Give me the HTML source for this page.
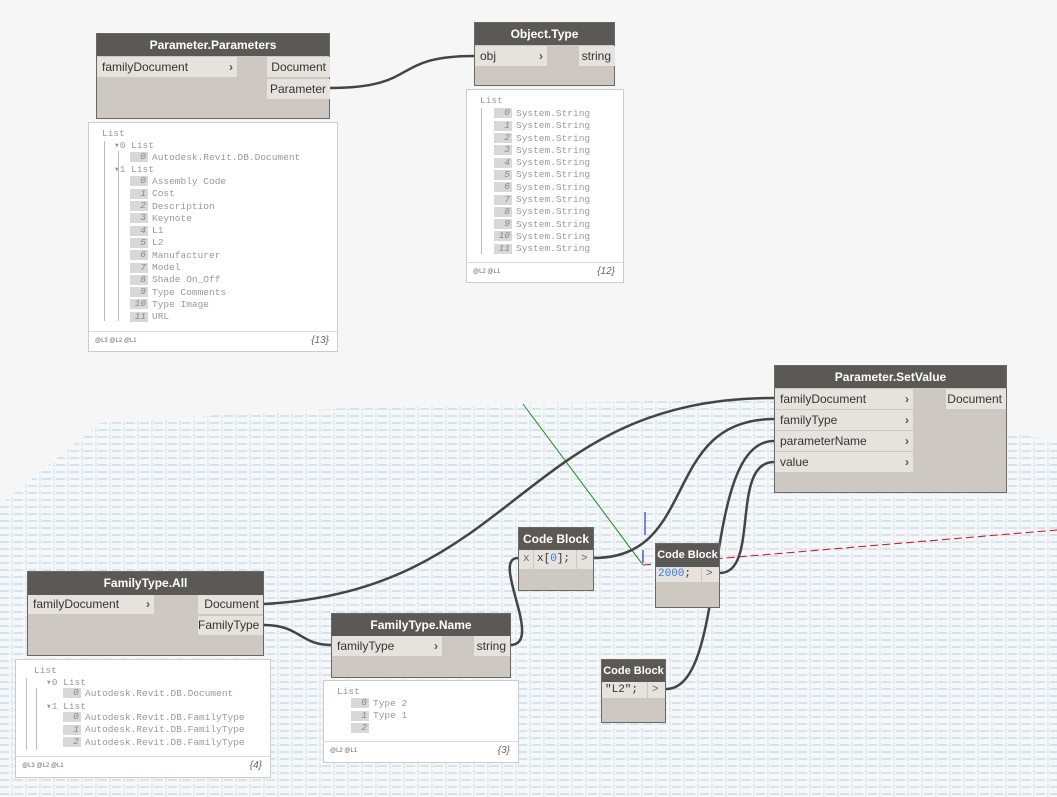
<!DOCTYPE html>
<html><head><meta charset="utf-8">
<style>
body{margin:0;width:1057px;height:797px;overflow:hidden;background:#f6f6f6;position:relative;font-family:"Liberation Sans",sans-serif;}
.a{position:absolute;}
.node{position:absolute;background:#cdc9c2;border:1px solid #6b6864;box-sizing:border-box;}
.hd{position:absolute;left:0;right:0;top:0;background:#5b5955;color:#fff;font-weight:bold;font-size:12px;text-align:center;white-space:nowrap;overflow:hidden;}
.in{position:absolute;background:#e6e3de;color:#333;font-size:12px;padding-left:5px;box-sizing:border-box;white-space:nowrap;}
.in b{position:absolute;right:4px;top:0;font-weight:bold;color:#555;}
.out{position:absolute;background:#e6e3de;color:#333;font-size:12px;text-align:right;padding-right:4px;box-sizing:border-box;white-space:nowrap;}
.pv{position:absolute;background:#fff;border:1px solid #ccc;box-sizing:border-box;}
.t{position:absolute;font-family:"Liberation Mono",monospace;font-size:9.5px;color:#999;white-space:nowrap;}
.t div{height:12.3px;line-height:12.3px;}
.ix{display:inline-block;background:#d8d8d8;color:#888;font-style:italic;width:16px;height:10px;line-height:10px;text-align:right;padding-right:2px;margin-right:4px;vertical-align:middle;}
.ft{position:absolute;font-size:6px;color:#666;}
.br{position:absolute;font-size:10px;color:#666;font-style:italic;}
.vl{position:absolute;width:1px;background:#bbb;}
.mono{font-family:"Liberation Mono",monospace;}
</style></head><body>
<svg class="a" style="left:0;top:0" width="1057" height="797">
<defs>
<pattern id="g" width="14" height="7" patternUnits="userSpaceOnUse">
<rect width="14" height="7" fill="#f5f7f9"/>
<line x1="0" y1="3" x2="9" y2="3" stroke="#b5cfe0" stroke-width="1"/>
<line x1="12" y1="0" x2="12" y2="5" stroke="#cfdde8" stroke-width="1"/>
</pattern>
</defs>
<polygon points="0,505 100,423 300,410 520,403 780,400 1057,440 1057,797 0,797" fill="url(#g)"/>
<line x1="523" y1="404" x2="643" y2="565" stroke="#1a8a1a" stroke-width="1"/>
<line x1="643" y1="565" x2="1057" y2="530" stroke="#e01010" stroke-width="1" stroke-dasharray="8,4"/>
<line x1="645" y1="512" x2="645" y2="535" stroke="#1010d0" stroke-width="1"/>
<line x1="643" y1="550" x2="643" y2="563" stroke="#1010d0" stroke-width="1"/>
<g fill="none" stroke="#444" stroke-width="2.5">
<path d="M330,88 C420,88 390,56 474,56"/>
<path d="M264,604 C520,590 520,398 774,398"/>
<path d="M264,625 C300,625 300,645 331,645"/>
<path d="M510,645 C545,645 490,558 518,558"/>
<path d="M594,558 C700,558 660,419 774,419"/>
<path d="M720,573 C760,573 730,462 774,462"/>
<path d="M666,689 C730,689 700,441 774,441"/>
</g>
</svg>

<!-- Parameter.Parameters -->
<div class="node" style="left:96px;top:33px;width:234px;height:86px;">
<div class="hd" style="height:22px;line-height:22px;">Parameter.Parameters</div>
<div class="in" style="left:0;top:23px;width:140px;height:20px;line-height:20px;">familyDocument<b>›</b></div>
<div class="out" style="left:170px;top:23px;width:63px;height:20px;line-height:20px;">Document</div>
<div class="out" style="left:170px;top:45px;width:63px;height:20px;line-height:20px;">Parameter</div>
</div>
<div class="pv" style="left:88px;top:122px;width:250px;height:230px;">
<div class="t" style="left:13px;top:5px;"><div>List</div></div>
<div class="t" style="left:25px;top:17px;"><div>▾0 List</div></div>
<div class="t" style="left:41px;top:29px;"><div><span class="ix">0</span>Autodesk.Revit.DB.Document</div></div>
<div class="t" style="left:25px;top:41px;"><div>▾1 List</div></div>
<div class="t" style="left:41px;top:53px;"><div><span class="ix">0</span>Assembly Code</div><div><span class="ix">1</span>Cost</div><div><span class="ix">2</span>Description</div><div><span class="ix">3</span>Keynote</div><div><span class="ix">4</span>L1</div><div><span class="ix">5</span>L2</div><div><span class="ix">6</span>Manufacturer</div><div><span class="ix">7</span>Model</div><div><span class="ix">8</span>Shade On_Off</div><div><span class="ix">9</span>Type Comments</div><div><span class="ix">10</span>Type Image</div><div><span class="ix">11</span>URL</div></div>
<div class="vl" style="left:15px;top:18px;height:180px;"></div>
<div class="vl" style="left:29px;top:28px;height:170px;"></div>
<div class="a" style="left:0;right:0;top:208px;height:1px;background:#ddd;"></div>
<div class="ft" style="left:6px;top:215px;">@L3 @L2 @L1</div>
<div class="br" style="right:8px;top:212px;">{13}</div>
</div>

<!-- Object.Type -->
<div class="node" style="left:474px;top:22px;width:141px;height:64px;">
<div class="hd" style="height:22px;line-height:22px;">Object.Type</div>
<div class="in" style="left:0;top:23px;width:72px;height:20px;line-height:20px;">obj<b>›</b></div>
<div class="out" style="left:104px;top:23px;width:36px;height:20px;line-height:20px;">string</div>
</div>
<div class="pv" style="left:466px;top:89px;width:158px;height:194px;">
<div class="t" style="left:13px;top:5px;"><div>List</div></div>
<div class="t" style="left:27px;top:18px;"><div><span class="ix">0</span>System.String</div><div><span class="ix">1</span>System.String</div><div><span class="ix">2</span>System.String</div><div><span class="ix">3</span>System.String</div><div><span class="ix">4</span>System.String</div><div><span class="ix">5</span>System.String</div><div><span class="ix">6</span>System.String</div><div><span class="ix">7</span>System.String</div><div><span class="ix">8</span>System.String</div><div><span class="ix">9</span>System.String</div><div><span class="ix">10</span>System.String</div><div><span class="ix">11</span>System.String</div></div>
<div class="vl" style="left:14px;top:18px;height:146px;"></div>
<div class="a" style="left:0;right:0;top:172px;height:1px;background:#ddd;"></div>
<div class="ft" style="left:6px;top:179px;">@L2 @L1</div>
<div class="br" style="right:8px;top:176px;">{12}</div>
</div>

<!-- Parameter.SetValue -->
<div class="node" style="left:774px;top:365px;width:233px;height:128px;">
<div class="hd" style="height:22px;line-height:22px;">Parameter.SetValue</div>
<div class="in" style="left:0;top:23px;width:138px;height:20px;line-height:20px;">familyDocument<b>›</b></div>
<div class="in" style="left:0;top:44px;width:138px;height:20px;line-height:20px;">familyType<b>›</b></div>
<div class="in" style="left:0;top:65px;width:138px;height:20px;line-height:20px;">parameterName<b>›</b></div>
<div class="in" style="left:0;top:86px;width:138px;height:20px;line-height:20px;">value<b>›</b></div>
<div class="out" style="left:171px;top:23px;width:60px;height:20px;line-height:20px;">Document</div>
</div>

<!-- Code Blocks -->
<div class="node" style="left:518px;top:527px;width:76px;height:64px;">
<div class="hd" style="height:22px;line-height:22px;">Code Block</div>
<div class="in mono" style="left:0;top:22px;width:14px;height:19px;line-height:19px;padding-left:4px;font-size:11px;color:#666;">x</div>
<div class="in mono" style="left:15px;top:22px;width:42px;height:19px;line-height:19px;padding-left:3px;font-size:11px;">x[<span style="color:#3b7ad9">0</span>];</div>
<div class="in mono" style="left:58px;top:22px;width:16px;height:19px;line-height:19px;padding-left:4px;font-size:11px;color:#666;">&gt;</div>
</div>
<div class="node" style="left:655px;top:543px;width:65px;height:65px;">
<div class="hd" style="height:23px;line-height:23px;font-size:11px;">Code Block</div>
<div class="in mono" style="left:0;top:23px;width:45px;height:15px;line-height:15px;padding-left:2px;font-size:11px;"><span style="color:#3b7ad9">2000</span>;</div>
<div class="in mono" style="left:46px;top:23px;width:17px;height:15px;line-height:15px;padding-left:4px;font-size:11px;color:#666;">&gt;</div>
</div>
<div class="node" style="left:601px;top:659px;width:65px;height:64px;">
<div class="hd" style="height:22px;line-height:22px;font-size:11px;">Code Block</div>
<div class="in mono" style="left:0;top:22px;width:45px;height:16px;line-height:16px;padding-left:3px;font-size:11px;">"L2";</div>
<div class="in mono" style="left:46px;top:22px;width:17px;height:16px;line-height:16px;padding-left:4px;font-size:11px;color:#666;">&gt;</div>
</div>

<!-- FamilyType.All -->
<div class="node" style="left:27px;top:571px;width:237px;height:85px;">
<div class="hd" style="height:23px;line-height:23px;">FamilyType.All</div>
<div class="in" style="left:0;top:23px;width:126px;height:19px;line-height:19px;">familyDocument<b>›</b></div>
<div class="out" style="left:170px;top:23px;width:65px;height:19px;line-height:19px;">Document</div>
<div class="out" style="left:170px;top:44px;width:65px;height:19px;line-height:19px;">FamilyType</div>
</div>
<div class="pv" style="left:15px;top:659px;width:256px;height:119px;">
<div class="t" style="left:18px;top:5px;"><div>List</div></div>
<div class="t" style="left:30px;top:17px;"><div>▾0 List</div></div>
<div class="t" style="left:47px;top:28px;"><div><span class="ix">0</span>Autodesk.Revit.DB.Document</div></div>
<div class="t" style="left:30px;top:41px;"><div>▾1 List</div></div>
<div class="t" style="left:47px;top:52px;"><div><span class="ix">0</span>Autodesk.Revit.DB.FamilyType</div><div><span class="ix">1</span>Autodesk.Revit.DB.FamilyType</div><div><span class="ix">2</span>Autodesk.Revit.DB.FamilyType</div></div>
<div class="vl" style="left:10px;top:18px;height:72px;"></div>
<div class="vl" style="left:20px;top:28px;height:62px;"></div>
<div class="a" style="left:0;right:0;top:96px;height:1px;background:#ddd;"></div>
<div class="ft" style="left:6px;top:103px;">@L3 @L2 @L1</div>
<div class="br" style="right:8px;top:100px;">{4}</div>
</div>

<!-- FamilyType.Name -->
<div class="node" style="left:331px;top:613px;width:180px;height:65px;">
<div class="hd" style="height:22px;line-height:22px;">FamilyType.Name</div>
<div class="in" style="left:0;top:22px;width:110px;height:20px;line-height:20px;">familyType<b>›</b></div>
<div class="out" style="left:142px;top:22px;width:36px;height:20px;line-height:20px;">string</div>
</div>
<div class="pv" style="left:323px;top:680px;width:196px;height:83px;">
<div class="t" style="left:13px;top:5px;"><div>List</div></div>
<div class="t" style="left:27px;top:17px;"><div><span class="ix">0</span>Type 2</div><div><span class="ix">1</span>Type 1</div><div><span class="ix">2</span></div></div>
<div class="a" style="left:0;right:0;top:60px;height:1px;background:#ddd;"></div>
<div class="ft" style="left:6px;top:67px;">@L2 @L1</div>
<div class="br" style="right:8px;top:64px;">{3}</div>
</div>
</body></html>
